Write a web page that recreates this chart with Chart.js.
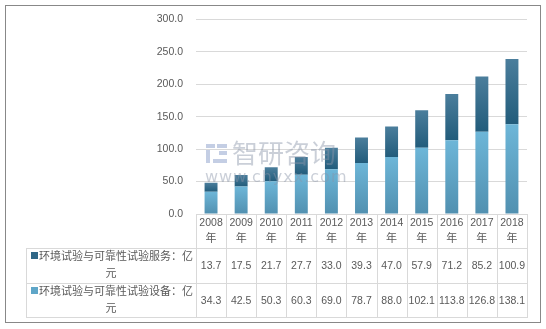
<!DOCTYPE html>
<html>
<head>
<meta charset="utf-8">
<script src="https://cdn.jsdelivr.net/npm/chart.js@4.4.1/dist/chart.umd.min.js"></script>
<style>
  html, body { margin: 0; padding: 0; background: #fff; }
  #wrap { width: 546px; height: 329px; position: relative; }
</style>
</head>
<body>
<div id="wrap"><canvas id="chart" width="546" height="329"></canvas></div>
<script>
// 数据
const years = ['2008', '2009', '2010', '2011', '2012', '2013', '2014', '2015', '2016', '2017', '2018'];
const serviceValues = [13.7, 17.5, 21.7, 27.7, 33.0, 39.3, 47.0, 57.9, 71.2, 85.2, 100.9];
const equipmentValues = [34.3, 42.5, 50.3, 60.3, 69.0, 78.7, 88.0, 102.1, 113.8, 126.8, 138.1];
const serviceLabel = '环境试验与可靠性试验服务：亿元';
const equipmentLabel = '环境试验与可靠性试验设备：亿元';
const yTicks = [0, 50, 100, 150, 200, 250, 300];

const textColor = '#595959';
const lineColor = '#d9d9d9';
const numFont = '10.5px "Liberation Sans", Arial, sans-serif';
const cjkFont = '11px "Noto Sans CJK SC", sans-serif';

// 竖直渐变填充
function segmentGradient(ctx, top, bottom) {
    const chart = ctx.chart;
    const y = chart.scales.y;
    if (!y) return top;
    const i = ctx.dataIndex;
    let lo, hi;
    if (ctx.datasetIndex === 0) {
        lo = 0; hi = equipmentValues[i];
    } else {
        lo = equipmentValues[i]; hi = equipmentValues[i] + serviceValues[i];
    }
    const y0 = y.getPixelForValue(hi);
    const y1 = y.getPixelForValue(lo);
    if (!isFinite(y0) || !isFinite(y1) || y0 === y1) return top;
    const g = chart.ctx.createLinearGradient(0, y0, 0, y1);
    g.addColorStop(0, top);
    g.addColorStop(1, bottom);
    return g;
}

// 表格和外框
const tablePlugin = {
    id: 'dataTable',
    afterDraw(chart) {
        const ctx = chart.ctx;
        const area = chart.chartArea;
        const x = chart.scales.x;
        const n = years.length;
        const colW = (area.right - area.left) / n;
        const top = area.bottom;
        const r1 = 248, r2 = 283, r3 = 317;
        const leftX = 26;

        ctx.save();
        // 外框
        ctx.strokeStyle = '#888888';
        ctx.lineWidth = 1;
        ctx.strokeRect(5.5, 5.5, 535, 317);

        // 表格线
        ctx.strokeStyle = lineColor;
        ctx.beginPath();
        [r1, r2, r3].forEach(yy => {
            ctx.moveTo(leftX, yy + 0.5);
            ctx.lineTo(area.right, yy + 0.5);
        });
        ctx.moveTo(leftX + 0.5, r1);
        ctx.lineTo(leftX + 0.5, r3 + 1);
        for (let k = 0; k <= n; k++) {
            const vx = Math.round(area.left + k * colW) + 0.5;
            ctx.moveTo(vx, top);
            ctx.lineTo(vx, r3 + 1);
        }
        ctx.stroke();

        // 表头
        ctx.fillStyle = textColor;
        ctx.textAlign = 'center';
        ctx.textBaseline = 'middle';
        years.forEach((yr, i) => {
            const cx = x.getPixelForValue(i);
            ctx.font = numFont;
            ctx.fillText(yr, cx, 223);
            ctx.font = cjkFont;
            ctx.fillText('年', cx, 238);
        });

        // 数值
        ctx.font = numFont;
        years.forEach((yr, i) => {
            const cx = x.getPixelForValue(i);
            ctx.fillText(serviceValues[i].toFixed(1), cx, (r1 + r2) / 2 + 1);
            ctx.fillText(equipmentValues[i].toFixed(1), cx, (r2 + r3) / 2 + 1);
        });

        // 图例列
        const rows = [
            { label: serviceLabel, color: '#2f6787', y: r1 },
            { label: equipmentLabel, color: '#5fa6c8', y: r2 }
        ];
        const midX = (leftX + area.left) / 2;
        rows.forEach(row => {
            ctx.fillStyle = row.color;
            ctx.fillRect(31, row.y + 4, 7, 7);
            ctx.fillStyle = textColor;
            ctx.font = cjkFont;
            ctx.textAlign = 'left';
            ctx.fillText(row.label.slice(0, -1), 39, row.y + 8);
            ctx.textAlign = 'center';
            ctx.fillText(row.label.slice(-1), midX, row.y + 25);
        });

        // 水印
        ctx.globalAlpha = 0.45;
        ctx.fillStyle = '#8a94a8';
        ctx.textAlign = 'left';
        ctx.font = '26px "Noto Sans CJK SC", sans-serif';
        ctx.fillText('智研咨询', 232, 153);
        ctx.font = '16px "DejaVu Sans", sans-serif';
        ctx.letterSpacing = '1px';
        ctx.fillText('www.chyxx.com', 205, 178);
        ctx.letterSpacing = '0px';
        ctx.fillStyle = '#7c93c4';
        ctx.fillRect(206, 144, 9, 4);
        ctx.fillRect(206, 150, 4, 13);
        ctx.fillRect(217, 144, 10, 4);
        ctx.fillRect(219, 151, 8, 4);
        ctx.fillRect(213, 159, 14, 4);
        ctx.restore();
    }
};

new Chart(document.getElementById('chart'), {
    type: 'bar',
    data: {
        labels: years,
        datasets: [
            {
                label: equipmentLabel,
                data: equipmentValues,
                backgroundColor: ctx => segmentGradient(ctx, '#6db6d8', '#5190b0'),
                borderWidth: 0,
                barPercentage: 0.43,
                categoryPercentage: 1
            },
            {
                label: serviceLabel,
                data: serviceValues,
                backgroundColor: ctx => segmentGradient(ctx, '#4b7e9c', '#225c7b'),
                borderWidth: 0,
                barPercentage: 0.43,
                categoryPercentage: 1
            }
        ]
    },
    options: {
        responsive: false,
        animation: false,
        devicePixelRatio: 1,
        layout: {
            padding: { left: 0, right: 19, top: 19, bottom: 115 }
        },
        plugins: {
            legend: { display: false },
            tooltip: { enabled: false }
        },
        scales: {
            x: {
                stacked: true,
                display: false
            },
            y: {
                stacked: true,
                min: 0,
                max: 300,
                afterFit: scale => { scale.width = 196; },
                afterBuildTicks: scale => { scale.ticks = yTicks.map(v => ({ value: v })); },
                border: { display: false },
                grid: { color: lineColor, drawTicks: false },
                ticks: {
                    padding: 13,
                    color: textColor,
                    font: { family: '"Liberation Sans", Arial, sans-serif', size: 10.5 },
                    callback: v => Number(v).toFixed(1)
                }
            }
        }
    },
    plugins: [tablePlugin]
});
</script>
</body>
</html>
